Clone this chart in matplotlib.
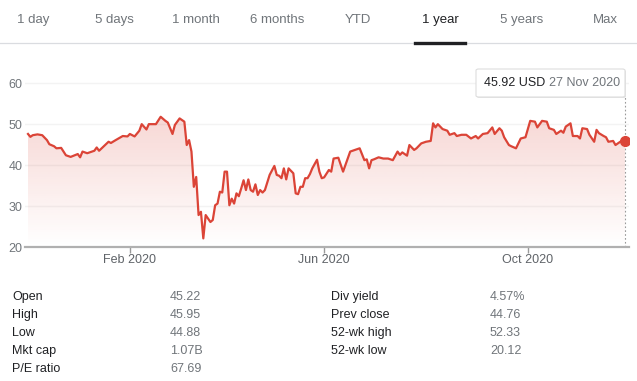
import numpy as np
import pandas as pd
import matplotlib
matplotlib.use("Agg")
import matplotlib.pyplot as plt
from matplotlib.lines import Line2D
from matplotlib.patches import FancyBboxPatch

plt.rcParams['font.family'] = ['Liberation Sans', 'DejaVu Sans']

# trading days shown (NYSE calendar, 27 Nov 2019 - 27 Nov 2020)
holidays = ['2019-11-28', '2019-12-25', '2020-01-01', '2020-01-20', '2020-02-17',
            '2020-04-10', '2020-05-25', '2020-07-03', '2020-09-07', '2020-11-26']
trading_days = pd.bdate_range('2019-11-27', '2020-11-27', freq='C', holidays=holidays)

day = [0, 1, 2, 4, 6, 8, 9, 11, 12, 14,
       16, 18, 21, 22, 23, 25, 28, 29, 30, 32,
       34, 35, 37, 40, 42, 43, 45, 47, 48, 50,
       51, 54, 56, 58, 59, 61, 62, 64, 66, 67,
       68, 69, 70, 71, 72, 73, 74, 75, 77, 78,
       79, 80, 81, 82, 83, 84, 85, 86, 87, 88,
       89, 90, 91, 92, 93, 94, 95, 96, 97, 98,
       99, 100, 102, 104, 105, 106, 107, 108, 109, 110,
       112, 113, 114, 115, 116, 117, 118, 119, 120, 122,
       123, 124, 125, 127, 128, 129, 131, 133, 136, 138,
       140, 142, 143, 144, 145, 146, 148, 150, 152, 154,
       156, 157, 158, 160, 161, 163, 164, 166, 168, 170,
       171, 172, 173, 175, 177, 178, 180, 181, 183, 185,
       187, 189, 190, 192, 194, 196, 197, 199, 200, 201,
       203, 204, 206, 207, 208, 210, 212, 214, 215, 217,
       219, 220, 222, 223, 225, 226, 227, 229, 230, 232,
       233, 234, 236, 237, 239, 240, 241, 243, 244, 245,
       247, 248, 250, 251, 252]
close = [47.6, 46.9, 47.3, 47.5, 47.3, 46.1, 45.1, 44.6, 44.1, 44.2,
         42.4, 42.0, 42.7, 41.9, 43.3, 42.9, 43.5, 44.3, 43.5, 44.6,
         45.7, 45.4, 46.1, 47.1, 47.0, 47.6, 47.0, 48.4, 50.0, 48.7,
         50.0, 50.0, 51.8, 50.8, 50.4, 47.6, 49.8, 51.4, 50.6, 44.9,
         46.1, 43.3, 34.7, 37.1, 27.8, 28.6, 22.1, 27.8, 26.1, 26.6,
         30.2, 30.6, 33.5, 33.3, 38.4, 38.4, 30.2, 31.8, 30.6, 33.1,
         32.4, 34.3, 36.3, 33.9, 36.5, 33.9, 33.5, 35.3, 32.7, 33.9,
         33.3, 33.9, 37.6, 39.8, 37.6, 37.4, 36.8, 39.2, 36.5, 39.2,
         38.0, 33.1, 32.9, 34.7, 34.7, 36.8, 36.8, 37.8, 39.2, 41.3,
         38.4, 36.8, 37.0, 38.8, 38.4, 41.6, 41.8, 38.4, 43.3, 43.7,
         44.1, 41.2, 41.4, 39.2, 41.2, 41.4, 41.9, 41.6, 41.6, 41.2,
         43.3, 42.5, 43.1, 42.3, 44.9, 43.7, 44.1, 45.3, 45.7, 45.9,
         50.2, 49.2, 50.0, 48.8, 48.4, 47.4, 47.8, 47.1, 47.4, 47.4,
         46.5, 47.1, 46.5, 47.6, 47.8, 49.2, 47.6, 49.0, 48.4, 46.8,
         44.9, 44.6, 44.1, 45.3, 46.5, 46.8, 50.8, 50.6, 49.2, 50.8,
         50.6, 49.0, 48.6, 47.6, 48.4, 47.9, 49.4, 50.2, 47.1, 47.1,
         46.5, 49.0, 48.8, 47.4, 45.7, 48.6, 47.8, 47.1, 46.8, 45.7,
         45.9, 44.9, 45.7, 45.9, 45.92]

tabs = ['1 day', '5 days', '1 month', '6 months', 'YTD', '1 year', '5 years', 'Max']
selected_tab = '1 year'
tick_months = ['2020-02', '2020-06', '2020-10']
yticks = [20, 30, 40, 50, 60]

stats_left = [('Open', '45.22'), ('High', '45.95'), ('Low', '44.88'),
              ('Mkt cap', '1.07B'), ('P/E ratio', '67.69')]
stats_right = [('Div yield', '4.57%'), ('Prev close', '44.76'),
               ('52-wk high', '52.33'), ('52-wk low', '20.12')]
currency = 'USD'

W, H = 637, 381
RED = '#db4437'
GREY = '#70757a'

fig = plt.figure(figsize=(W / 100, H / 100), dpi=100)


def fx(px):
    return px / W


def fy(py):
    return 1 - py / H


# ---- tabs ----
tab_x = [33, 114, 196, 277, 358, 440, 522, 605]
for name, x in zip(tabs, tab_x):
    sel = name == selected_tab
    fig.text(fx(x), fy(20), name, ha='center', va='center', fontsize=9.5,
             color='#202124' if sel else GREY)
fig.add_artist(Line2D([0, 1], [fy(42.5), fy(42.5)], color='#dadce0', lw=0.9))
fig.add_artist(Line2D([fx(415), fx(465)], [fy(42.5), fy(42.5)], color='#202124', lw=2.4))

# ---- chart ----
x = np.array(day)
y = np.array(close)
ax = fig.add_axes([fx(25), fy(247), fx(604), (247 - 75) / H])
ax.set_xlim(-1.27, 253.7)
ax.set_ylim(20, 62)

for s in ['top', 'right', 'left']:
    ax.spines[s].set_visible(False)
ax.spines['bottom'].set_color('#b0b0b0')
ax.spines['bottom'].set_linewidth(1.6)

for v in yticks[1:]:
    ax.axhline(v, color='#f3f3f3', lw=1.0, zorder=0)

# gradient fill under the line
poly = ax.fill_between(x, y, 20, color='none', lw=0)
clip = poly.get_paths()[0]
n = 256
grad = np.zeros((n, 1, 4))
r, g, b = matplotlib.colors.to_rgb(RED)
grad[:, 0, 0] = r
grad[:, 0, 1] = g
grad[:, 0, 2] = b
grad[:, 0, 3] = np.linspace(0.22, 0.0, n)
im = ax.imshow(grad, extent=[x.min(), x.max(), 20, 53], aspect='auto',
               origin='upper', zorder=1, interpolation='bilinear')
im.set_clip_path(clip, transform=ax.transData)

ax.plot(x, y, color=RED, lw=1.6, zorder=3, solid_joinstyle='round')
ax.plot(x[-1], y[-1], 'o', color=RED, ms=7, zorder=4)
ax.axvline(x[-1], ymin=0, ymax=0.87, color='#9a9a9a', lw=0.8, ls=(0, (1.5, 2)), zorder=2)

# ticks
month_of = trading_days.strftime('%Y-%m')
xt = [int(np.argmax(month_of == m)) - 1 for m in tick_months]
ax.set_xticks(xt)
ax.set_xticklabels([pd.Timestamp(m).strftime('%b %Y') for m in tick_months])
ax.tick_params(axis='x', length=4, width=1, color='#9a9a9a', pad=1, labelsize=9,
               labelcolor='#5f6368')
ax.set_yticks(yticks)
ax.tick_params(axis='y', length=0, pad=2, labelsize=9, labelcolor=GREY)

# tooltip
last_date = trading_days[day[-1]]
shadow = FancyBboxPatch((fx(477), fy(98)), fx(149), fy(70) - fy(98),
                        boxstyle='round,pad=0,rounding_size=0.004',
                        transform=fig.transFigure, fc='#e4e4e4', ec='none', zorder=5)
box = FancyBboxPatch((fx(476), fy(97)), fx(149), fy(69) - fy(97),
                     boxstyle='round,pad=0,rounding_size=0.004',
                     transform=fig.transFigure, fc='white', ec='#dddddd', lw=0.8, zorder=6)
fig.add_artist(shadow)
fig.add_artist(box)
fig.text(fx(484), fy(83), f'{close[-1]:.2f} {currency}', ha='left', va='center',
         fontsize=9, color='#202124', zorder=7)
fig.text(fx(549), fy(83), last_date.strftime('%d %b %Y'), ha='left', va='center',
         fontsize=9, color=GREY, zorder=7)

# ---- stats table ----
row_y = [297, 315, 333, 351, 369]
for (lab, val), ry in zip(stats_left, row_y):
    fig.text(fx(12), fy(ry), lab, ha='left', va='center', fontsize=9, color='#202124')
    fig.text(fx(170), fy(ry), val, ha='left', va='center', fontsize=9, color=GREY)
for (lab, val), ry in zip(stats_right, row_y):
    fig.text(fx(331), fy(ry), lab, ha='left', va='center', fontsize=9, color='#202124')
    fig.text(fx(490), fy(ry), val, ha='left', va='center', fontsize=9, color=GREY)

fig.savefig('out.png', dpi=100)
